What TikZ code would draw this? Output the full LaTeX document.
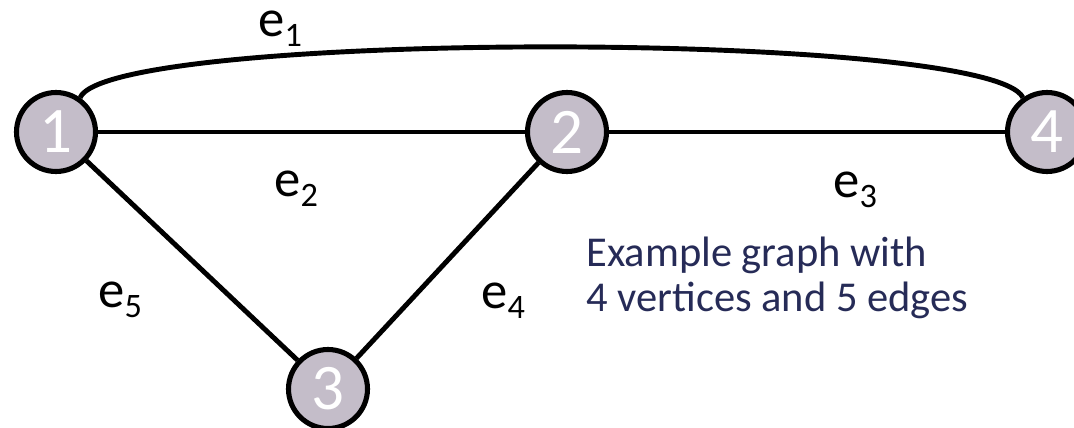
\documentclass[tikz,border=0pt]{standalone}
\usepackage{fontspec}
\setmainfont{Carlito}
\definecolor{nodefill}{RGB}{196,189,201}
\definecolor{captxt}{RGB}{38,43,87}
\newcommand\subdig[1]{\raisebox{-0.18em}{\fontsize{19.5}{19.5}\selectfont #1}}
\begin{document}
\begin{tikzpicture}[x=0.02cm,y=-0.02cm,
  vert/.style={circle, draw=black, line width=2.9pt, fill=nodefill, minimum size=1.58cm, inner sep=0pt, text=white, font=\fontsize{37}{37}\selectfont},
  edge/.style={line width=2.8pt, black},
  elabel/.style={anchor=base west, inner sep=0pt, font=\fontsize{30}{30}\selectfont},
  caption/.style={anchor=west, align=left, inner sep=0pt, text=captxt, font=\fontsize{24.2}{25.5}\selectfont}]
\useasboundingbox (0,0) rectangle (1074,428);
\clip (0,0) rectangle (1074,428);
\node[vert] (n1) at (56,132) {1};
\node[vert] (n2) at (567,132) {2};
\node[vert] (n4) at (1047,132) {4};
\node[vert] (n3) at (328,389) {3};
\draw[edge] (n1) -- (n2);
\draw[edge] (n2) -- (n4);
\draw[edge] (n1) -- (n3);
\draw[edge] (n2) -- (n3);
\draw[edge] (n1.55) .. controls (110,30) and (990,30) .. (n4.125);
\node[elabel] (l1) at (258,37) {e\subdig{1}};
\node[elabel] (l2) at (274,197) {e\subdig{2}};
\node[elabel] (l3) at (833,198) {e\subdig{3}};
\node[elabel] (l4) at (481,309) {e\subdig{4}};
\node[elabel] (l5) at (98,308) {e\subdig{5}};
\node[caption] (cap) at (586,278) {Example graph with\\4 vertices and 5 edges};
\end{tikzpicture}
\end{document}
